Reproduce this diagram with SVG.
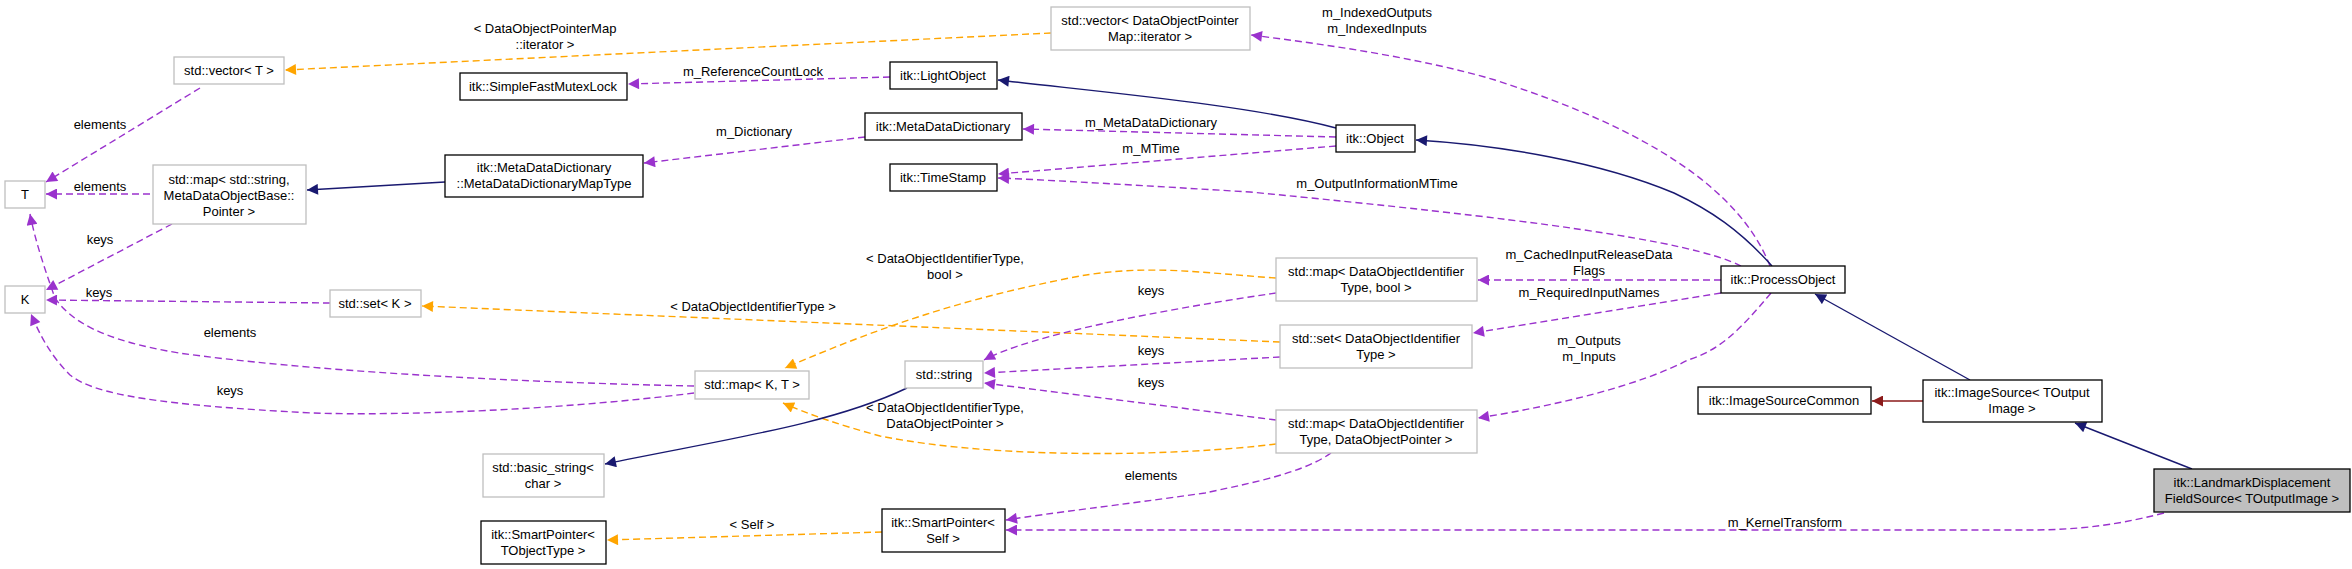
<svg xmlns="http://www.w3.org/2000/svg" width="2352" height="569" viewBox="0 0 2352 569">
<style>
text{font-family:"Liberation Sans",Arial,sans-serif;font-size:13px;fill:#000;text-anchor:middle}
.n rect{fill:#fff;stroke:#000;stroke-width:1.3}
.u rect{fill:#fff;stroke:#bfbfbf;stroke-width:1.3}
.g rect{fill:#bfbfbf;stroke:#000;stroke-width:1.3}
.e path{fill:none;stroke-width:1.4}
.p{stroke:#9a32cd;stroke-dasharray:7,4}
.o{stroke:#ffa500;stroke-dasharray:7,4}
.b{stroke:#191970}
.r{stroke:#8b1a1a;stroke-width:2}
</style>
<defs>
<marker id="mp" viewBox="0 0 10 10" refX="10" refY="5" markerWidth="14" markerHeight="11" markerUnits="userSpaceOnUse" orient="auto"><path d="M0,0L10,5L0,10z" fill="#9a32cd"/></marker>
<marker id="mo" viewBox="0 0 10 10" refX="10" refY="5" markerWidth="14" markerHeight="11" markerUnits="userSpaceOnUse" orient="auto"><path d="M0,0L10,5L0,10z" fill="#ffa500"/></marker>
<marker id="mb" viewBox="0 0 10 10" refX="10" refY="5" markerWidth="14" markerHeight="11" markerUnits="userSpaceOnUse" orient="auto"><path d="M0,0L10,5L0,10z" fill="#191970"/></marker>
<marker id="mr" viewBox="0 0 10 10" refX="10" refY="5" markerWidth="14" markerHeight="11" markerUnits="userSpaceOnUse" orient="auto"><path d="M0,0L10,5L0,10z" fill="#8b1a1a"/></marker>
</defs>
<g id="connectors" class="e">
<path class="p" marker-end="url(#mp)" d="M1770,266 C1740,190 1650,130 1495,80 C1420,58 1330,45 1251,35"/>
<path class="o" marker-end="url(#mo)" d="M1051,33 L285,70"/>
<path class="p" marker-end="url(#mp)" d="M890,77 L628,84"/>
<path class="b" marker-end="url(#mb)" d="M1336,128 C1250,105 1100,92 998,80"/>
<path class="p" marker-end="url(#mp)" d="M1336,137 L1023,129"/>
<path class="p" marker-end="url(#mp)" d="M1336,146 L998,174"/>
<path class="p" marker-end="url(#mp)" d="M1741,266 C1690,240 1520,218 1250,192 C1150,186 1050,180 998,178"/>
<path class="p" marker-end="url(#mp)" d="M865,137 L644,163"/>
<path class="b" marker-end="url(#mb)" d="M445,182 L307,190"/>
<path class="p" marker-end="url(#mp)" d="M150,194 L46,194"/>
<path class="p" marker-end="url(#mp)" d="M200,88 L46,182"/>
<path class="p" marker-end="url(#mp)" d="M172,224 L46,290"/>
<path class="p" marker-end="url(#mp)" d="M694,386 C500,382 300,370 179,353 C100,340 70,320 55,298 C45,270 35,240 30,214"/>
<path class="p" marker-end="url(#mp)" d="M694,393 C560,410 400,416 312,413 C160,405 95,395 70,375 C50,355 40,335 31,314"/>
<path class="p" marker-end="url(#mp)" d="M330,303 L46,300"/>
<path class="o" marker-end="url(#mo)" d="M1280,342 L422,306"/>
<path class="o" marker-end="url(#mo)" d="M1276,278 C1200,273 1140,262 1060,280 C960,300 880,327 785,368"/>
<path class="o" marker-end="url(#mo)" d="M1276,444 C1180,456 1000,460 880,436 C840,425 810,415 783,403"/>
<path class="p" marker-end="url(#mp)" d="M1276,293 C1160,310 1030,335 984,360"/>
<path class="p" marker-end="url(#mp)" d="M1280,357 L984,373"/>
<path class="p" marker-end="url(#mp)" d="M1276,420 L984,383"/>
<path class="b" marker-end="url(#mb)" d="M907,388 C830,425 720,440 605,464"/>
<path class="p" marker-end="url(#mp)" d="M1331,453 C1300,475 1240,485 1205,493 C1120,505 1050,513 1006,520"/>
<path class="p" marker-end="url(#mp)" d="M2164,513 C2110,527 2070,530 2027,530 L1006,530"/>
<path class="o" marker-end="url(#mo)" d="M882,532 L607,540"/>
<path class="p" marker-end="url(#mp)" d="M1721,280 L1478,280"/>
<path class="p" marker-end="url(#mp)" d="M1721,293 L1473,333"/>
<path class="p" marker-end="url(#mp)" d="M1771,293 C1740,330 1720,350 1688,360 C1640,385 1560,405 1478,418"/>
<path class="b" marker-end="url(#mb)" d="M1772,266 C1740,230 1710,210 1674,193 C1600,162 1500,145 1416,140"/>
<path class="b" marker-end="url(#mb)" d="M1970,380 L1815,294"/>
<path class="r" marker-end="url(#mr)" d="M1923,401 L1872,401"/>
<path class="b" marker-end="url(#mb)" d="M2192,469 L2075,423"/>
</g>
<g id="labels">
<text x="1377" y="17">m_IndexedOutputs</text><text x="1377" y="33">m_IndexedInputs</text>
<text x="545" y="33">&lt; DataObjectPointerMap</text><text x="545" y="49">::iterator &gt;</text>
<text x="753" y="76">m_ReferenceCountLock</text>
<text x="1151" y="127">m_MetaDataDictionary</text>
<text x="1151" y="153">m_MTime</text>
<text x="1377" y="188">m_OutputInformationMTime</text>
<text x="754" y="136">m_Dictionary</text>
<text x="100" y="191">elements</text>
<text x="100" y="129">elements</text>
<text x="100" y="244">keys</text>
<text x="99" y="297">keys</text>
<text x="230" y="337">elements</text>
<text x="230" y="395">keys</text>
<text x="753" y="311">&lt; DataObjectIdentifierType &gt;</text>
<text x="945" y="263">&lt; DataObjectIdentifierType,</text><text x="945" y="279">bool &gt;</text>
<text x="945" y="412">&lt; DataObjectIdentifierType,</text><text x="945" y="428">DataObjectPointer &gt;</text>
<text x="1151" y="295">keys</text>
<text x="1151" y="355">keys</text>
<text x="1151" y="387">keys</text>
<text x="1151" y="480">elements</text>
<text x="1785" y="527">m_KernelTransform</text>
<text x="752" y="529">&lt; Self &gt;</text>
<text x="1589" y="259">m_CachedInputReleaseData</text><text x="1589" y="275">Flags</text>
<text x="1589" y="297">m_RequiredInputNames</text>
<text x="1589" y="345">m_Outputs</text><text x="1589" y="361">m_Inputs</text>
</g>
<g id="vecT" class="u"><rect x="174" y="57" width="110" height="27"/><text x="229" y="75">std::vector&lt; T &gt;</text></g>
<g id="T" class="u"><rect x="5" y="181" width="40" height="27"/><text x="25" y="199">T</text></g>
<g id="K" class="u"><rect x="5" y="286" width="40" height="27"/><text x="25" y="304">K</text></g>
<g id="mapStr" class="u"><rect x="153" y="165" width="153" height="59"/><text x="229" y="184">std::map&lt; std::string,</text><text x="229" y="200">MetaDataObjectBase::</text><text x="229" y="216">Pointer &gt;</text></g>
<g id="mapType" class="n"><rect x="445" y="155" width="198" height="42"/><text x="544" y="172">itk::MetaDataDictionary</text><text x="544" y="188">::MetaDataDictionaryMapType</text></g>
<g id="mutex" class="n"><rect x="460" y="73" width="167" height="27"/><text x="543" y="91">itk::SimpleFastMutexLock</text></g>
<g id="setK" class="u"><rect x="330" y="290" width="91" height="27"/><text x="375" y="308">std::set&lt; K &gt;</text></g>
<g id="basicStr" class="u"><rect x="483" y="454" width="121" height="43"/><text x="543" y="472">std::basic_string&lt;</text><text x="543" y="488">char &gt;</text></g>
<g id="spT" class="n"><rect x="481" y="521" width="125" height="43"/><text x="543" y="539">itk::SmartPointer&lt;</text><text x="543" y="555">TObjectType &gt;</text></g>
<g id="vecDOP" class="u"><rect x="1051" y="7" width="199" height="43"/><text x="1150" y="25">std::vector&lt; DataObjectPointer</text><text x="1150" y="41">Map::iterator &gt;</text></g>
<g id="light" class="n"><rect x="890" y="62" width="107" height="27"/><text x="943" y="80">itk::LightObject</text></g>
<g id="mdd" class="n"><rect x="865" y="113" width="157" height="27"/><text x="943" y="131">itk::MetaDataDictionary</text></g>
<g id="ts" class="n"><rect x="890" y="164" width="107" height="27"/><text x="943" y="182">itk::TimeStamp</text></g>
<g id="mapKT" class="u"><rect x="695" y="371" width="114" height="28"/><text x="752" y="389">std::map&lt; K, T &gt;</text></g>
<g id="str" class="u"><rect x="905" y="361" width="78" height="27"/><text x="944" y="379">std::string</text></g>
<g id="spSelf" class="n"><rect x="882" y="509" width="123" height="43"/><text x="943" y="527">itk::SmartPointer&lt;</text><text x="943" y="543">Self &gt;</text></g>
<g id="obj" class="n"><rect x="1336" y="125" width="79" height="27"/><text x="1375" y="143">itk::Object</text></g>
<g id="po" class="n"><rect x="1721" y="266" width="124" height="27"/><text x="1783" y="284">itk::ProcessObject</text></g>
<g id="mapBool" class="u"><rect x="1276" y="258" width="201" height="43"/><text x="1376" y="276">std::map&lt; DataObjectIdentifier</text><text x="1376" y="292">Type, bool &gt;</text></g>
<g id="setDOI" class="u"><rect x="1280" y="325" width="192" height="43"/><text x="1376" y="343">std::set&lt; DataObjectIdentifier</text><text x="1376" y="359">Type &gt;</text></g>
<g id="mapDOP" class="u"><rect x="1276" y="410" width="201" height="43"/><text x="1376" y="428">std::map&lt; DataObjectIdentifier</text><text x="1376" y="444">Type, DataObjectPointer &gt;</text></g>
<g id="isc" class="n"><rect x="1698" y="387" width="173" height="27"/><text x="1784" y="405">itk::ImageSourceCommon</text></g>
<g id="is" class="n"><rect x="1923" y="380" width="179" height="42"/><text x="2012" y="397">itk::ImageSource&lt; TOutput</text><text x="2012" y="413">Image &gt;</text></g>
<g id="ldfs" class="g"><rect x="2154" y="469" width="196" height="43"/><text x="2252" y="487">itk::LandmarkDisplacement</text><text x="2252" y="503">FieldSource&lt; TOutputImage &gt;</text></g>
</svg>
